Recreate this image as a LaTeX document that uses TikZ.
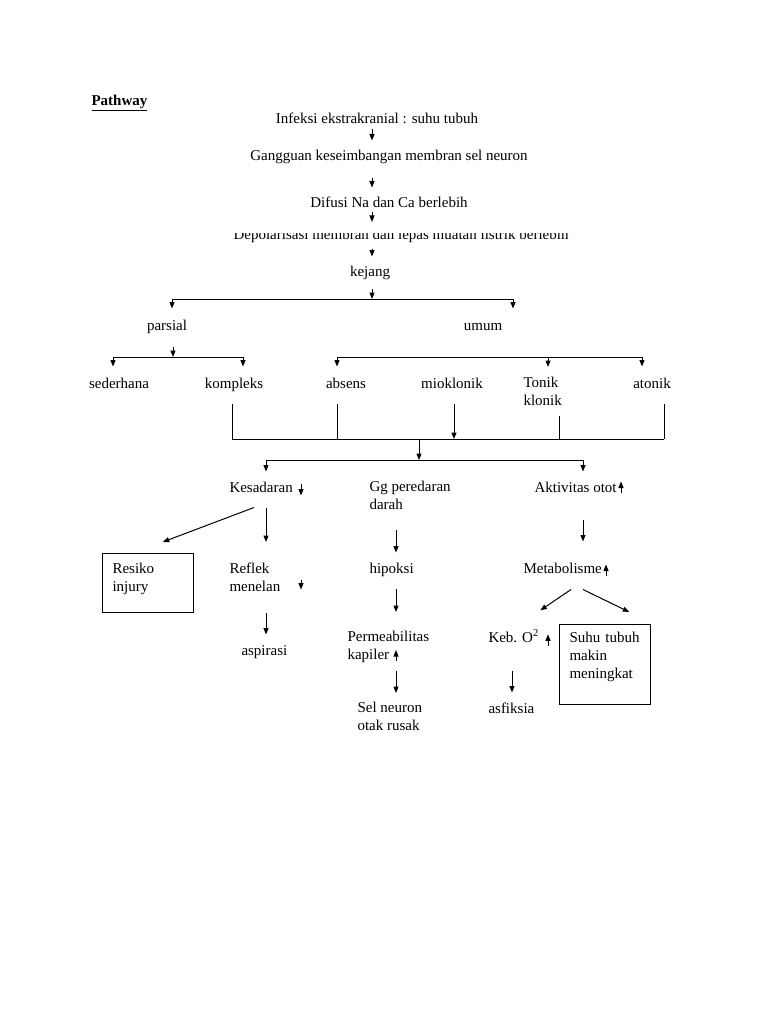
\documentclass[tikz,border=0pt]{standalone}
\usepackage{fontspec}
\setmainfont{Liberation Serif}
\usetikzlibrary{arrows.meta}

\newcommand\tstrut{\rule[-3pt]{0pt}{14pt}}
\newcommand\lowpad[1]{\rule[-#1]{0pt}{0pt}}

\begin{document}
\begin{tikzpicture}[x=1pt, y=-1pt, line width=1pt,
    txt/.style={inner sep=0pt, font=\fontsize{15}{18}\selectfont,
      execute at begin node=\tstrut, execute at end node=\tstrut},
    lines/.style={txt, align=left},
    box/.style={lines, draw, text width=70.5pt, inner xsep=10pt},
    arr/.style={-{Triangle[width=5pt,length=6.5pt]}},
    clearance/.style 2 args={shorten <=#1, shorten >=#2}]
  \useasboundingbox (0,0) rectangle (768,1024);

  % Title
  \node[txt, anchor=base west] (pathway) at (91,106) {\underline{\textbf{Pathway}}};

  % Main chain
  \node[txt, anchor=base] (infeksi) at (377,124) {Infeksi ekstrakranial : suhu tubuh};
  \node[txt, anchor=base] (gangguan) at (389,161) {Gangguan keseimbangan membran sel neuron};
  \node[txt, anchor=base] (difusi) at (389,208) {Difusi Na dan Ca berlebih};
  \begin{scope}
    \clip (0,233.5) rectangle (768,260);
    \node[txt, anchor=base] (depol) at (401,239.5) {Depolarisasi membran dan lepas muatan listrik berlebih};
  \end{scope}
  \node[txt, anchor=base] (kejang) at (370,276) {kejang};

  \coordinate (spine) at (372,0);
  \draw[arr, clearance={2pt}{9pt}] (infeksi.south -| spine) -- (gangguan.north -| spine);
  \draw[arr, clearance={13pt}{9pt}] (gangguan.south -| spine) -- (difusi.north -| spine);
  \draw[arr, clearance={1pt}{6pt}] (difusi.south -| spine) -- (depol.north -| spine);
  \draw[arr, clearance={6pt}{8pt}] (depol.south -| spine) -- (kejang.north -| spine);

  % Types of seizure
  \node[txt, anchor=base] (parsial) at (167,330) {parsial};
  \node[txt, anchor=base] (umum) at (483,330) {umum};
  \node[txt, anchor=base] (sederhana) at (119,388) {sederhana};
  \node[txt, anchor=base] (kompleks) at (234,388) {kompleks};
  \node[txt, anchor=base] (absens) at (346,388) {absens};
  \node[txt, anchor=base] (mioklonik) at (452,388) {mioklonik};
  \node[lines, anchor=north west] (tonik) at (523,377) {Tonik\\klonik};
  \node[txt, anchor=base] (atonik) at (652,388) {atonik};

  \coordinate (b1) at (372,299);
  \coordinate (b1l) at (172,299);
  \coordinate (b1r) at (513,299);
  \draw[arr, clearance={9pt}{0pt}] (kejang.south -| b1) -- (b1);
  \draw (b1l) -- (b1r);
  \draw[arr, clearance={0pt}{10pt}] (b1l) -- (b1l |- parsial.north);
  \draw[arr, clearance={0pt}{10pt}] (b1r) -- (b1r |- umum.north);

  \coordinate (b2) at (173,357);
  \coordinate (b2l) at (113,357);
  \coordinate (b2r) at (243,357);
  \draw[arr, clearance={13pt}{0pt}] (parsial.south -| b2) -- (b2);
  \draw (b2l) -- (b2r);
  \draw[arr, clearance={0pt}{10pt}] (b2l) -- (b2l |- sederhana.north);
  \draw[arr, clearance={0pt}{10pt}] (b2r) -- (b2r |- kompleks.north);

  \coordinate (b3l) at (337,357);
  \coordinate (b3m) at (548,357);
  \coordinate (b3r) at (642,357);
  \draw (b3l) -- (b3r);
  \draw[arr, clearance={0pt}{10pt}] (b3l) -- (b3l |- absens.north);
  \draw[arr, clearance={0pt}{10pt}] (b3m) -- (b3m |- tonik.north);
  \draw[arr, clearance={0pt}{10pt}] (b3r) -- (b3r |- atonik.north);

  % Effects
  \node[txt, anchor=base west] (kesadaran) at (229,492) {Kesadaran};
  \node[lines, anchor=north west] (gg) at (369,481) {Gg peredaran\\darah};
  \node[txt, anchor=base west] (aktivitas) at (534,492) {Aktivitas otot};
  \node[box, inner ysep=9pt, anchor=north west] (resiko) at (102,553) {Resiko\\injury\lowpad{12pt}};
  \node[lines, anchor=north west] (reflek) at (229,562) {Reflek\\menelan};
  \node[txt, anchor=base west] (hipoksi) at (369,573) {hipoksi};
  \node[txt, anchor=base west] (metabolisme) at (523,573) {Metabolisme};
  \node[txt, anchor=base west] (aspirasi) at (241,655) {aspirasi};
  \node[lines, anchor=north west] (permeabilitas) at (347,631) {Permeabilitas\\kapiler};
  \node[txt, anchor=base west] (keb) at (488,642) {Keb. O\textsuperscript{2}};
  \node[box, inner ysep=7pt, anchor=north west] (suhu) at (559,624) {Suhu tubuh\\makin\\meningkat\lowpad{19pt}};
  \node[lines, anchor=north west] (sel) at (357,702) {Sel neuron\\otak rusak};
  \node[txt, anchor=base west] (asfiksia) at (488,713) {asfiksia};

  % Collecting line
  \coordinate (b4l) at (232,439);
  \coordinate (b4a) at (337,439);
  \coordinate (b4m) at (419,439);
  \coordinate (b4b) at (454,439);
  \coordinate (b4c) at (559,439);
  \coordinate (b4r) at (664,439);
  \draw[clearance={12pt}{0pt}] (b4l |- kompleks.south) -- (b4l);
  \draw[clearance={12pt}{0pt}] (b4a |- absens.south) -- (b4a);
  \draw[arr, clearance={12pt}{0pt}] (b4b |- mioklonik.south) -- (b4b);
  \draw[clearance={7pt}{0pt}] (b4c |- tonik.south) -- (b4c);
  \draw[clearance={12pt}{0pt}] (b4r |- atonik.south) -- (b4r);
  \draw (b4l) -- (b4r);

  \coordinate (b5) at (419,460);
  \coordinate (b5l) at (266,460);
  \coordinate (b5r) at (583,460);
  \draw[arr] (b4m) -- (b5);
  \draw (b5l) -- (b5r);
  \draw[arr, clearance={0pt}{9pt}] (b5l) -- (b5l |- kesadaran.north);
  \draw[arr, clearance={0pt}{9pt}] (b5r) -- (b5r |- aktivitas.north);

  \coordinate (cK) at (266,0);
  \coordinate (cM) at (301,0);
  \coordinate (cG) at (396,0);
  \coordinate (cE) at (512,0);
  \coordinate (cD) at (548,0);
  \coordinate (cB) at (583,0);
  \coordinate (cC) at (606,0);
  \coordinate (cA) at (621,0);

  \draw[arr, clearance={3pt}{0pt}] (kesadaran.north -| cM) -- (kesadaran.south -| cM);
  \draw[arr] ([shift={(25pt,-12pt)}]kesadaran.south west) -- ([shift={(15pt,11pt)}]resiko.north);
  \draw[arr, clearance={12pt}{20pt}] (kesadaran.south -| cK) -- (reflek.north -| cK);
  \draw[arr, clearance={18pt}{5pt}] (reflek.north -| cM) -- (reflek.south -| cM);
  \draw[arr, clearance={18pt}{9pt}] (reflek.south -| cK) -- (aspirasi.north -| cK);

  \draw[arr, clearance={17pt}{9pt}] (gg.south -| cG) -- (hipoksi.north -| cG);
  \draw[arr, clearance={12pt}{19pt}] (hipoksi.south -| cG) -- (permeabilitas.north -| cG);
  \draw[arr, clearance={3pt}{19pt}] (permeabilitas.south -| cG) -- (permeabilitas.north -| cG);
  \draw[arr, clearance={7pt}{9pt}] (permeabilitas.south -| cG) -- (sel.north -| cG);

  \draw[arr, clearance={3pt}{1pt}] (aktivitas.south -| cA) -- (aktivitas.north -| cA);
  \draw[arr, clearance={24pt}{20pt}] (aktivitas.south -| cB) -- (metabolisme.north -| cB);
  \draw[arr, clearance={1pt}{3pt}] (metabolisme.south -| cC) -- (metabolisme.north -| cC);
  \draw[arr] ([shift={(48pt,-13pt)}]metabolisme.south west) -- ([shift={(1pt,19pt)}]keb.north east);
  \draw[arr] ([shift={(60pt,-13pt)}]metabolisme.south west) -- ([shift={(24.5pt,12pt)}]suhu.north);
  \draw[arr, clearance={0pt}{5pt}] (keb.south -| cD) -- (keb.north -| cD);
  \draw[arr, clearance={25pt}{9pt}] (keb.south -| cE) -- (asfiksia.north -| cE);
\end{tikzpicture}
\end{document}
